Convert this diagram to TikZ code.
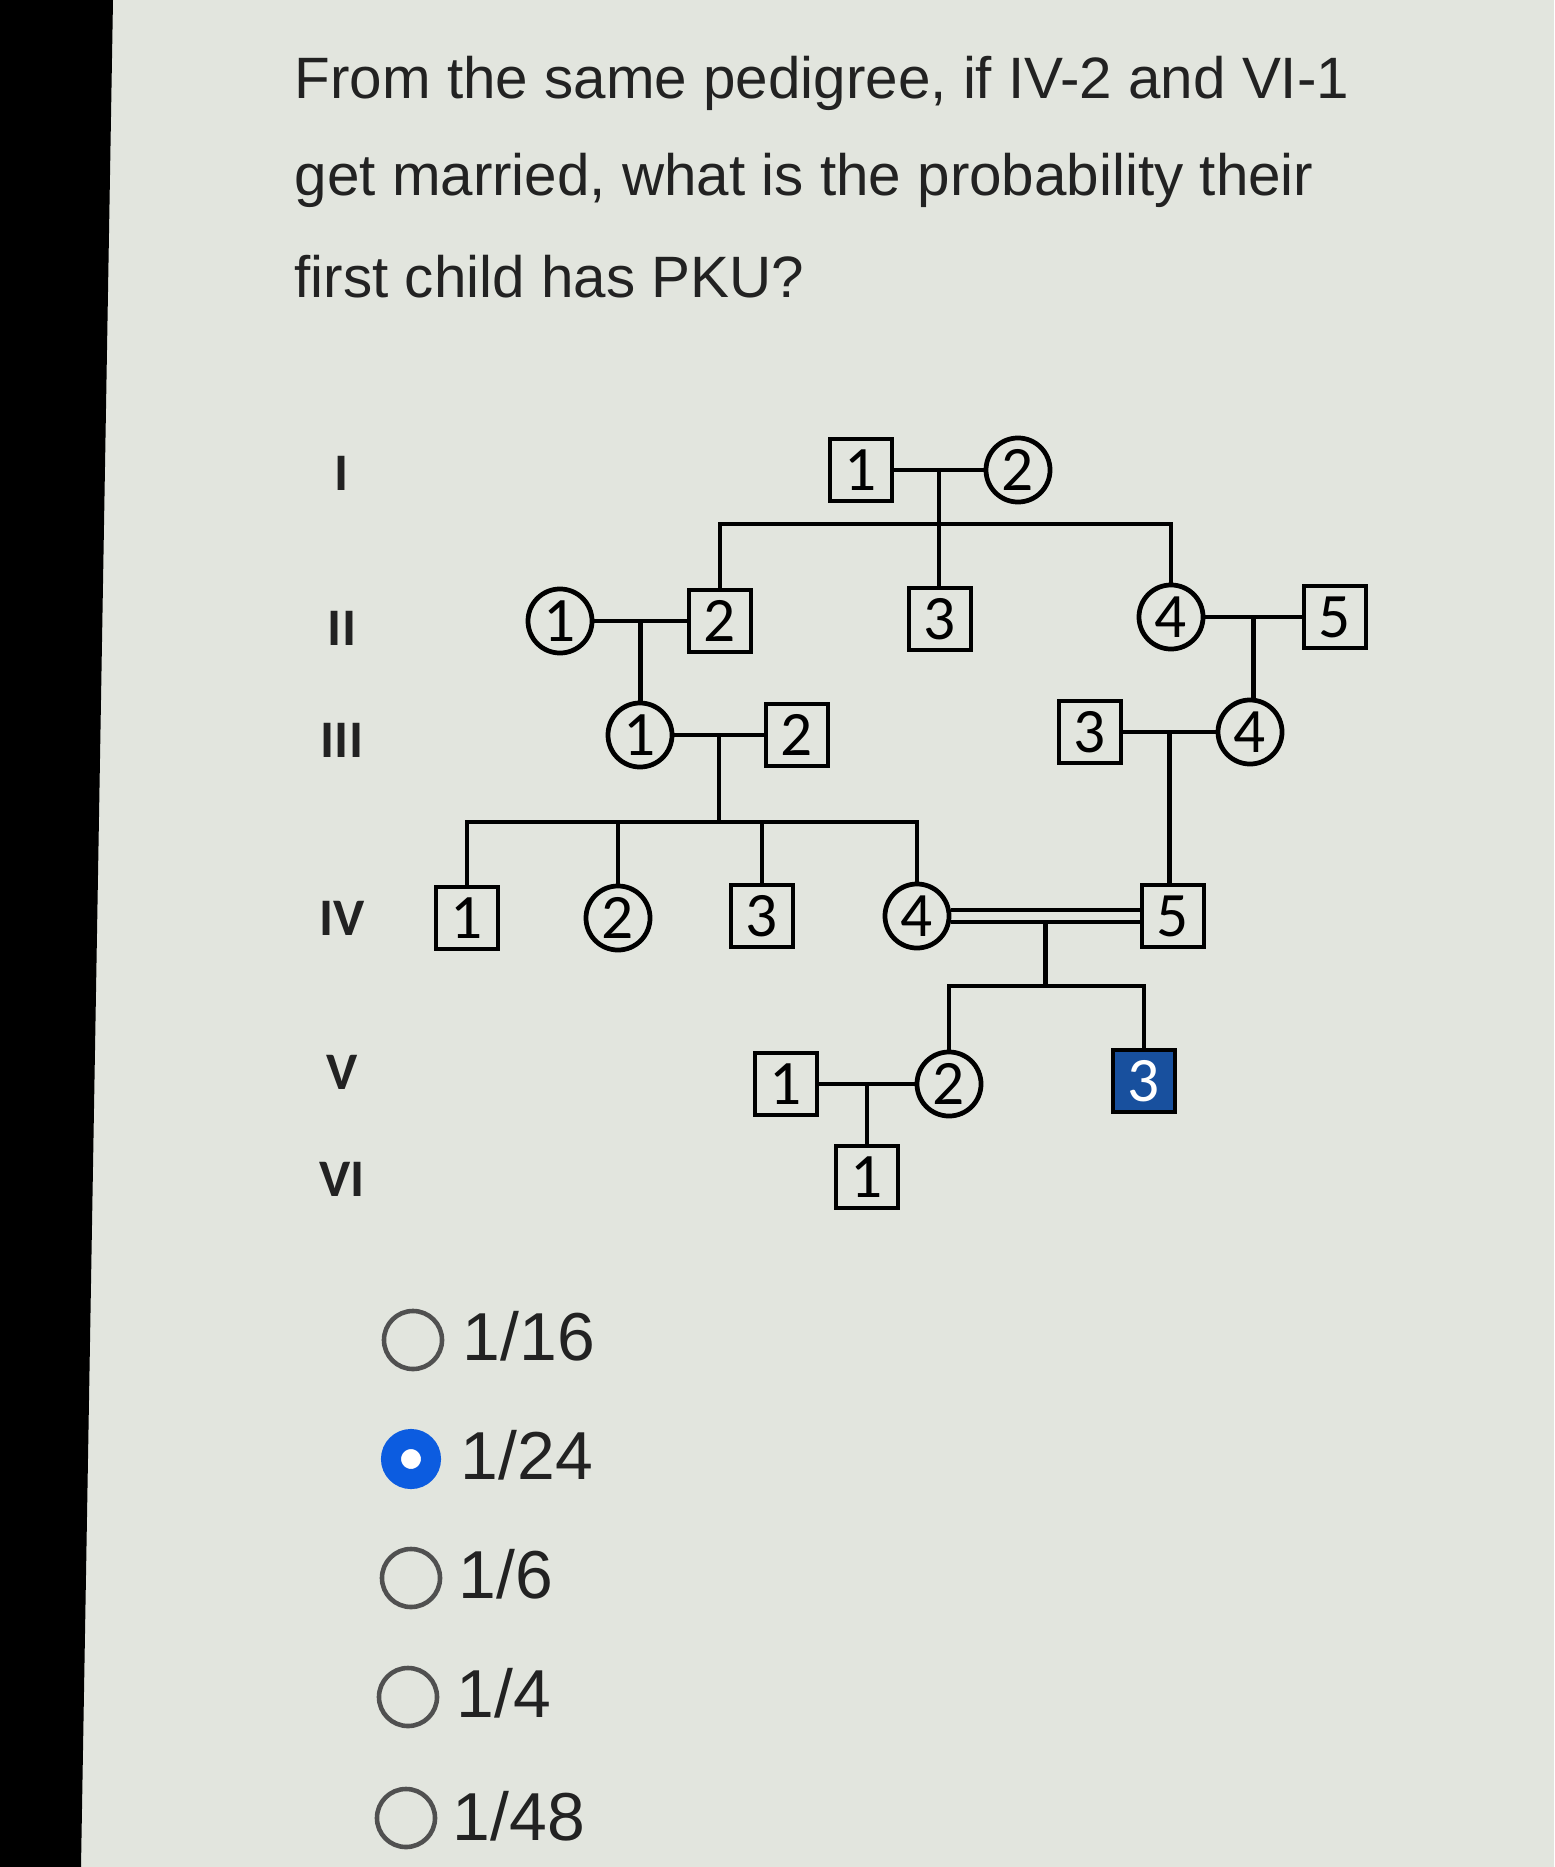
\documentclass[tikz,border=0pt]{standalone}
\usepackage{fontspec}
\setmainfont{Liberation Sans}
\newfontfamily\pedfont{Carlito}

\definecolor{screen}{RGB}{226,229,222}
\definecolor{ink}{RGB}{34,34,34}
\definecolor{affected}{RGB}{24,80,158}
\definecolor{radioblue}{RGB}{12,92,224}
\definecolor{radiogrey}{RGB}{80,80,80}

\tikzset{
  male/.style={draw=black, line width=1.35pt, minimum size=0.62cm, inner sep=0pt, font=\pedfont\fontsize{18}{18}\selectfont},
  female/.style={circle, draw=black, line width=1.35pt, minimum size=0.64cm, inner sep=0pt, font=\pedfont\fontsize{18}{18}\selectfont},
  sick/.style={male, fill=affected, text=white},
  gen/.style={font=\pedfont\bfseries\fontsize{15}{15}\selectfont, text=ink},
  link/.style={line width=1.35pt},
  question/.style={anchor=base west, inner sep=0pt, text=ink, font=\fontsize{16.6}{20}\selectfont},
  answer/.style={anchor=base west, inner sep=0pt, text=ink, font=\fontsize{19.3}{24}\selectfont},
  radio/.style={circle, draw=radiogrey, line width=1.3pt, minimum size=0.58cm, inner sep=0pt},
  chosen/.style={circle, draw=radioblue, fill=white, line width=0.2cm, minimum size=0.4cm, inner sep=0pt}
}

\begin{document}
\begin{tikzpicture}[x=0.01cm, y=-0.01cm]
\useasboundingbox (0,0) rectangle (1554,1867);

	% Screen background and dark edge on the left
	\fill[screen] (0,0) rectangle (1554,1867);
	\fill[black] (0,0) -- (113,0) -- (81,1867) -- (0,1867) -- cycle;

	% Question text
	\node[question] (q1) at (294,99) {From the same pedigree, if IV-2 and VI-1};
	\node[question] (q2) at (294,196) {get married, what is the probability their};
	\node[question] (q3) at (294,298) {first child has PKU?};

	% Generation labels
	\node[gen] (gI) at (342,473) {I};
	\node[gen] (gII) at (342,628) {II};
	\node[gen] (gIII) at (342,740) {III};
	\node[gen] (gIV) at (342,918) {IV};
	\node[gen] (gV) at (342,1072) {V};
	\node[gen] (gVI) at (342,1179) {VI};

	% Generation I
	\node[male] (I1) at (861,470) {1};
	\node[female] (I2) at (1018,470) {2};

	% Generation II
	\node[female] (II1) at (560,621) {1};
	\node[male] (II2) at (720,621) {2};
	\node[male] (II3) at (940,619) {3};
	\node[female] (II4) at (1171,617) {4};
	\node[male] (II5) at (1335,617) {5};

	% Generation III
	\node[female] (III1) at (640,735) {1};
	\node[male] (III2) at (797,735) {2};
	\node[male] (III3) at (1090,732) {3};
	\node[female] (III4) at (1250,732) {4};

	% Generation IV
	\node[male] (IV1) at (467,918) {1};
	\node[female] (IV2) at (618,918) {2};
	\node[male] (IV3) at (762,916) {3};
	\node[female] (IV4) at (917,916) {4};
	\node[male] (IV5) at (1173,916) {5};

	% Generation V and VI
	\node[male] (V1) at (786,1084) {1};
	\node[female] (V2) at (949,1084) {2};
	\node[sick] (V3) at (1144,1081) {3};
	\node[male] (VI1) at (867,1177) {1};

	% I-1 x I-2 and their three children
	\draw[link] (I1) -- coordinate (m1) (I2);
	\draw[link] (m1) -- ++(0,54) coordinate (s1);
	\draw[link] (II2.north) |- (s1) -| (II4.north);
	\draw[link] (s1) -- (s1 |- II3.north);

	% II-1 x II-2 -> III-1
	\draw[link] (II1) -- coordinate (m2) (II2);
	\draw[link] (m2) -- (m2 |- III1.north);

	% II-4 x II-5 -> III-4
	\draw[link] (II4) -- coordinate (m3) (II5);
	\draw[link] (m3) -- (m3 |- III4.north);

	% III-1 x III-2 and their four children
	\draw[link] (III1) -- coordinate (m4) (III2);
	\draw[link] (m4) -- ++(0,87) coordinate (s4);
	\draw[link] (IV1.north) |- (s4) -| (IV4.north);
	\draw[link] (IV2.north) -- (IV2.north |- s4);
	\draw[link] (IV3.north) -- (IV3.north |- s4);

	% III-3 x III-4 -> IV-5
	\draw[link] (III3) -- coordinate (m5) (III4);
	\draw[link] (m5) -- (m5 |- IV5.north);

	% IV-4 = IV-5 (double line) and their two children
	\draw[link] (IV4.10) -- (IV4.10 -| IV5.west);
	\draw[link] (IV4.-10) -- coordinate (m6) (IV4.-10 -| IV5.west);
	\draw[link] (m6) -- ++(0,64) coordinate (s6);
	\draw[link] (V2.north) |- (s6) -| (V3.north);

	% V-1 x V-2 -> VI-1
	\draw[link] (V1) -- coordinate (m7) (V2);
	\draw[link] (m7) -- (m7 |- VI1.north);

	% Answer choices
	\node[radio] (o1) at (413,1340) {};
	\node[chosen] (o2) at (411,1459) {};
	\node[radio] (o3) at (411,1578) {};
	\node[radio] (o4) at (408,1697) {};
	\node[radio] (o5) at (406,1818) {};
	\node[answer] (a1) at (462,1360) {1/16};
	\node[answer] (a2) at (460,1479) {1/24};
	\node[answer] (a3) at (458,1598) {1/6};
	\node[answer] (a4) at (456,1717) {1/4};
	\node[answer] (a5) at (452,1840) {1/48};

\end{tikzpicture}
\end{document}
